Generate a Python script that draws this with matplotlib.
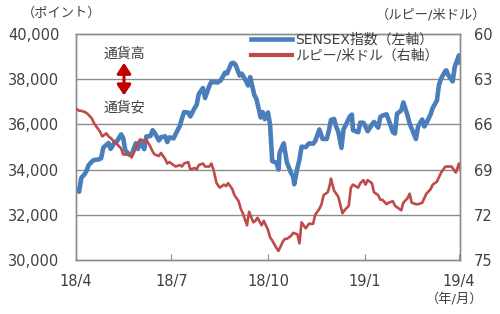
"""SENSEX index vs rupee/dollar rate, Apr 2018 - Apr 2019."""

import matplotlib

matplotlib.use("Agg")
import matplotlib.pyplot as plt  # noqa: E402
import numpy as np  # noqa: E402
from matplotlib.lines import Line2D  # noqa: E402

plt.rcParams["font.family"] = ["DejaVu Sans", "Noto Sans CJK JP"]

# ---- data ----
sensex_dates = [
    "2018-04-02", "2018-04-04", "2018-04-06", "2018-04-09", "2018-04-11", "2018-04-13",
    "2018-04-17", "2018-04-19", "2018-04-23", "2018-04-25", "2018-04-27", "2018-05-02",
    "2018-05-04", "2018-05-08", "2018-05-10", "2018-05-14", "2018-05-16", "2018-05-18",
    "2018-05-22", "2018-05-24", "2018-05-28", "2018-05-30", "2018-06-01", "2018-06-05",
    "2018-06-07", "2018-06-11", "2018-06-13", "2018-06-15", "2018-06-19", "2018-06-21",
    "2018-06-25", "2018-06-27", "2018-06-29", "2018-07-03", "2018-07-05", "2018-07-09",
    "2018-07-11", "2018-07-13", "2018-07-17", "2018-07-19", "2018-07-23", "2018-07-25",
    "2018-07-27", "2018-07-31", "2018-08-02", "2018-08-06", "2018-08-08", "2018-08-10",
    "2018-08-14", "2018-08-17", "2018-08-21", "2018-08-23", "2018-08-27", "2018-08-29",
    "2018-08-31", "2018-09-04", "2018-09-06", "2018-09-10", "2018-09-12", "2018-09-14",
    "2018-09-18", "2018-09-20", "2018-09-24", "2018-09-26", "2018-09-28", "2018-10-01",
    "2018-10-03", "2018-10-05", "2018-10-09", "2018-10-11", "2018-10-12", "2018-10-16",
    "2018-10-19", "2018-10-23", "2018-10-25", "2018-10-26", "2018-10-29", "2018-10-31",
    "2018-11-02", "2018-11-06", "2018-11-09", "2018-11-13", "2018-11-15", "2018-11-19",
    "2018-11-22", "2018-11-26", "2018-11-28", "2018-11-30", "2018-12-03", "2018-12-05",
    "2018-12-07", "2018-12-10", "2018-12-12", "2018-12-14", "2018-12-18", "2018-12-20",
    "2018-12-21", "2018-12-26", "2018-12-28", "2018-12-31", "2019-01-02", "2019-01-04",
    "2019-01-08", "2019-01-10", "2019-01-14", "2019-01-16", "2019-01-18", "2019-01-22",
    "2019-01-24", "2019-01-28", "2019-01-30", "2019-02-01", "2019-02-05", "2019-02-07",
    "2019-02-11", "2019-02-13", "2019-02-15", "2019-02-19", "2019-02-21", "2019-02-25",
    "2019-02-27", "2019-03-01", "2019-03-05", "2019-03-07", "2019-03-11", "2019-03-13",
    "2019-03-15", "2019-03-19", "2019-03-20", "2019-03-22", "2019-03-26", "2019-03-28",
    "2019-03-29", "2019-04-01", "2019-04-02",
]
sensex = [
    33100, 33019, 33627, 33788, 33940, 34193,
    34395, 34427, 34451, 34501, 34970, 35176,
    34915, 35216, 35246, 35557, 35388, 34849,
    34651, 34663, 35165, 34906, 35227, 34903,
    35463, 35483, 35739, 35622, 35287, 35432,
    35470, 35217, 35423, 35379, 35575, 35934,
    36265, 36541, 36520, 36351, 36718, 36858,
    37337, 37606, 37165, 37692, 37887, 37869,
    37852, 37948, 38286, 38252, 38694, 38722,
    38645, 38157, 38242, 37922, 37718, 38091,
    37291, 37121, 36306, 36542, 36227, 36526,
    35975, 34377, 34299, 34001, 34734, 35162,
    34316, 33847, 33690, 33349, 34067, 34442,
    35011, 34991, 35158, 35144, 35260, 35775,
    35354, 35354, 35717, 36194, 36241, 35885,
    35673, 34960, 35779, 35963, 36348, 36431,
    35742, 35650, 36076, 36068, 35891, 35695,
    35980, 36107, 35854, 36322, 36387, 36444,
    36195, 35656, 35592, 36469, 36616, 36971,
    36395, 36034, 35809, 35352, 35898, 36213,
    35905, 36064, 36443, 36725, 37054, 37752,
    38024, 38363, 38387, 38164, 37900, 38545,
    38673, 39050, 38750,
]

rupee_dates = [
    "2018-04-02", "2018-04-04", "2018-04-06", "2018-04-10", "2018-04-12", "2018-04-16",
    "2018-04-18", "2018-04-20", "2018-04-24", "2018-04-26", "2018-04-30", "2018-05-02",
    "2018-05-04", "2018-05-08", "2018-05-10", "2018-05-14", "2018-05-16", "2018-05-18",
    "2018-05-22", "2018-05-24", "2018-05-28", "2018-05-30", "2018-06-01", "2018-06-05",
    "2018-06-07", "2018-06-11", "2018-06-13", "2018-06-15", "2018-06-19", "2018-06-21",
    "2018-06-25", "2018-06-27", "2018-06-29", "2018-07-03", "2018-07-05", "2018-07-09",
    "2018-07-11", "2018-07-13", "2018-07-17", "2018-07-19", "2018-07-23", "2018-07-25",
    "2018-07-27", "2018-07-31", "2018-08-02", "2018-08-06", "2018-08-08", "2018-08-10",
    "2018-08-13", "2018-08-16", "2018-08-20", "2018-08-22", "2018-08-24", "2018-08-28",
    "2018-08-30", "2018-09-03", "2018-09-05", "2018-09-07", "2018-09-11", "2018-09-13",
    "2018-09-17", "2018-09-19", "2018-09-21", "2018-09-25", "2018-09-27", "2018-10-01",
    "2018-10-03", "2018-10-05", "2018-10-09", "2018-10-11", "2018-10-15", "2018-10-17",
    "2018-10-19", "2018-10-23", "2018-10-25", "2018-10-29", "2018-10-31", "2018-11-02",
    "2018-11-06", "2018-11-09", "2018-11-13", "2018-11-15", "2018-11-19", "2018-11-21",
    "2018-11-23", "2018-11-27", "2018-11-29", "2018-11-30", "2018-12-03", "2018-12-05",
    "2018-12-07", "2018-12-11", "2018-12-13", "2018-12-17", "2018-12-19", "2018-12-21",
    "2018-12-26", "2018-12-28", "2018-12-31", "2019-01-02", "2019-01-04", "2019-01-08",
    "2019-01-10", "2019-01-14", "2019-01-16", "2019-01-18", "2019-01-22", "2019-01-24",
    "2019-01-28", "2019-01-30", "2019-02-01", "2019-02-05", "2019-02-07", "2019-02-11",
    "2019-02-13", "2019-02-15", "2019-02-19", "2019-02-21", "2019-02-25", "2019-02-27",
    "2019-03-01", "2019-03-05", "2019-03-07", "2019-03-11", "2019-03-13", "2019-03-15",
    "2019-03-19", "2019-03-21", "2019-03-25", "2019-03-27", "2019-03-29", "2019-04-01",
    "2019-04-02",
]
rupee = [
    65.0, 65.1, 65.1, 65.2, 65.3, 65.6,
    65.9, 66.1, 66.5, 66.8, 66.6, 66.8,
    66.9, 67.2, 67.3, 67.6, 68.0, 68.0,
    68.0, 68.2, 67.6, 67.3, 67.0, 67.1,
    67.0, 67.5, 67.8, 68.0, 68.1, 67.9,
    68.3, 68.6, 68.5, 68.7, 68.8, 68.7,
    68.8, 68.6, 68.5, 69.0, 68.9, 69.0,
    68.7, 68.6, 68.8, 68.8, 68.6, 69.0,
    69.9, 70.2, 70.0, 70.1, 69.9, 70.3,
    70.7, 71.1, 71.6, 71.9, 72.7, 71.8,
    72.5, 72.4, 72.2, 72.7, 72.4, 73.0,
    73.5, 73.7, 74.2, 74.4, 73.8, 73.6,
    73.6, 73.4, 73.2, 73.3, 73.9, 72.5,
    72.9, 72.6, 72.6, 72.0, 71.6, 71.3,
    70.7, 70.5, 70.0, 69.6, 70.4, 70.6,
    70.8, 71.9, 71.7, 71.4, 70.2, 70.0,
    70.2, 69.9, 69.7, 70.0, 69.7, 69.9,
    70.5, 70.7, 71.0, 71.0, 71.3, 71.2,
    71.1, 71.4, 71.5, 71.7, 71.2, 70.9,
    70.6, 71.2, 71.3, 71.3, 71.2, 70.9,
    70.6, 70.3, 70.0, 69.8, 69.5, 69.2,
    68.8, 68.8, 68.8, 69.0, 69.2, 68.6,
    68.9,
]

x_tick_dates = ["2018-04-01", "2018-07-01", "2018-10-01", "2019-01-01", "2019-04-01"]
x_tick_labels = ["18/4", "18/7", "18/10", "19/1", "19/4"]
left_ticks = [30000, 32000, 34000, 36000, 38000, 40000]
right_ticks = [60, 63, 66, 69, 72, 75]

BLUE = "#4A7EBB"
RED = "#BE4B48"
GRID = "#8C8C8C"
TXT = "#404040"


def main() -> None:
    fig = plt.figure(figsize=(5.0, 3.14), dpi=100)
    ax = fig.add_axes([0.152, 0.172, 0.768, 0.720])
    ax2 = ax.twinx()

    sd = np.array(sensex_dates, dtype="datetime64[D]")
    rd = np.array(rupee_dates, dtype="datetime64[D]")

    ax.plot(sd, sensex, color=BLUE, lw=3.3, solid_joinstyle="round", zorder=3)
    ax2.plot(rd, rupee, color=RED, lw=1.9, solid_joinstyle="round", zorder=3)

    ax.set_xlim(np.datetime64("2018-04-01"), np.datetime64("2019-04-02"))
    ax.set_ylim(30000, 40000)
    ax2.set_ylim(75, 60)

    ax.set_yticks(left_ticks)
    ax.set_yticklabels([f"{v:,}" for v in left_ticks])
    ax2.set_yticks(right_ticks)
    ax2.set_yticklabels([str(v) for v in right_ticks])
    ax.set_xticks(np.array(x_tick_dates, dtype="datetime64[D]"))
    ax.set_xticklabels(x_tick_labels)

    for v in left_ticks[1:-1]:
        ax.axhline(v, color=GRID, lw=1.0, zorder=1)

    ax.tick_params(axis="y", length=0, pad=12, labelsize=10.5, labelcolor=TXT)
    ax2.tick_params(axis="y", length=0, pad=10, labelsize=10.5, labelcolor=TXT)
    ax.tick_params(axis="x", direction="in", length=4, color=GRID, pad=10,
                   labelsize=10.5, labelcolor=TXT)
    for a in (ax, ax2):
        for s in a.spines.values():
            s.set_color(GRID)
            s.set_linewidth(1.0)

    # currency direction marker
    ax.text(0.125, 0.912, "通貨高", transform=ax.transAxes, ha="center", va="center",
            fontsize=10, color=TXT)
    ax.text(0.125, 0.673, "通貨安", transform=ax.transAxes, ha="center", va="center",
            fontsize=10, color=TXT)
    ax.annotate("", xy=(0.125, 0.872), xytext=(0.125, 0.728), xycoords="axes fraction",
                arrowprops=dict(arrowstyle="<|-|>,head_length=0.45,head_width=0.3",
                                color="#C00000", lw=2.2, mutation_scale=14,
                                shrinkA=0, shrinkB=0))

    handles = [Line2D([], [], color=BLUE, lw=3.3), Line2D([], [], color=RED, lw=3.0)]
    ax2.legend(handles, ["SENSEX指数（左軸）", "ルピー/米ドル（右軸）"],
               loc="upper left", bbox_to_anchor=(0.44, 1.03), frameon=False,
               fontsize=10, handlelength=3.0, handletextpad=0.2, labelspacing=0.15,
               labelcolor=TXT, borderaxespad=0)

    fig.text(0.124, 0.958, "（ポイント）", ha="center", va="center", fontsize=9.5, color=TXT)
    fig.text(0.862, 0.952, "（ルピー/米ドル）", ha="center", va="center", fontsize=9.5,
             color=TXT)
    fig.text(0.91, 0.045, "（年/月）", ha="center", va="center", fontsize=9.5, color=TXT)

    fig.savefig("out.png", dpi=100)


if __name__ == "__main__":
    main()
